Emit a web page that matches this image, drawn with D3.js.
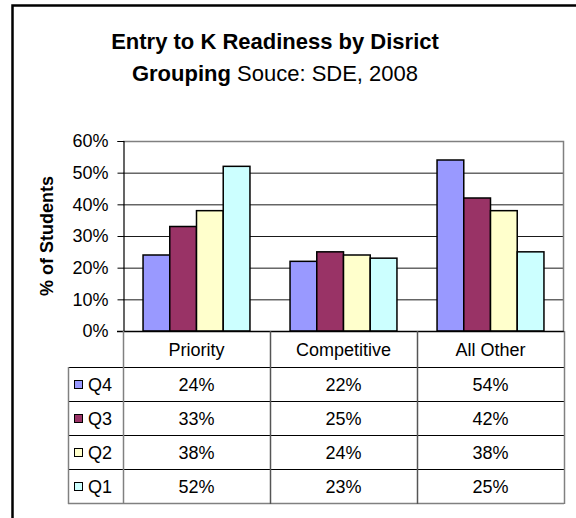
<!DOCTYPE html>
<html>
<head>
<meta charset="utf-8">
<script src="https://cdn.jsdelivr.net/npm/d3@7"></script>
<style>
  html, body { margin: 0; padding: 0; background: #fff; }
  svg { display: block; font-family: "Liberation Sans", Arial, sans-serif; }
</style>
</head>
<body>
<svg id="chart" width="576" height="518"></svg>
<script>
// District groupings along the x axis
const categories = ["Priority", "Competitive", "All Other"];
// Readiness quartiles, in the order they are drawn within each group
const seriesNames = ["Q4", "Q3", "Q2", "Q1"];
const q4 = [0.24, 0.22, 0.54];
const q3 = [0.33, 0.25, 0.42];
const q2 = [0.38, 0.24, 0.38];
const q1 = [0.52, 0.23, 0.25];
const seriesColors = ["#9999FF", "#993366", "#FFFFCC", "#CCFFFF"];
const yTicks = [0, 0.1, 0.2, 0.3, 0.4, 0.5, 0.6];

const seriesValues = [q4, q3, q2, q1];
const series = seriesNames.map((name, i) => ({ name, values: seriesValues[i], color: seriesColors[i] }));

const svg = d3.select("#chart");
const labelSize = 18;

// Outer chart frame (runs off the right and bottom edges)
svg.append("rect")
  .attr("x", 12.5).attr("y", 5.5)
  .attr("width", 620).attr("height", 620)
  .attr("fill", "none").attr("stroke", "#000").attr("stroke-width", 2.5);

// Title
const title = svg.append("g").attr("font-size", 22).attr("text-anchor", "middle");
title.append("text").attr("x", 275).attr("y", 49)
  .attr("font-weight", "bold").text("Entry to K Readiness by Disrict");
const t2 = title.append("text").attr("x", 275).attr("y", 81);
t2.append("tspan").attr("font-weight", "bold").text("Grouping");
t2.append("tspan").text(" Souce: SDE, 2008");

// Scales
const plot = { left: 123, right: 564, top: 141, bottom: 331 };
const x0 = d3.scaleBand().domain(categories).range([plot.left, plot.right]).padding(0);
const x1 = d3.scaleBand().domain(seriesNames).range([0, x0.bandwidth()])
  .paddingInner(0).paddingOuter(0.75);
const y = d3.scaleLinear().domain([0, 0.6]).range([plot.bottom, plot.top]);

// Gridlines
svg.append("g").selectAll("line").data(yTicks.filter(t => t > 0 && t < 0.6)).join("line")
  .attr("x1", plot.left).attr("x2", plot.right)
  .attr("y1", d => y(d) + 0.5).attr("y2", d => y(d) + 0.5)
  .attr("stroke", "#1a1a1a").attr("stroke-width", 1);

// Plot area border (top and right)
svg.append("path")
  .attr("d", `M${plot.left},${y(0.6) + 0.5}H${plot.right - 0.5}V${plot.bottom}`)
  .attr("fill", "none").attr("stroke", "#808080").attr("stroke-width", 1.5);

// Bars
const groups = svg.append("g").selectAll("g").data(series).join("g")
  .attr("fill", d => d.color);
groups.selectAll("rect")
  .data(d => categories.map((c, i) => ({ cat: c, name: d.name, value: d.values[i] })))
  .join("rect")
  .attr("x", d => x0(d.cat) + x1(d.name))
  .attr("y", d => y(d.value))
  .attr("width", x1.bandwidth())
  .attr("height", d => y(0) - y(d.value))
  .attr("stroke", "#000").attr("stroke-width", 1.5);

// Y axis
const yAxis = d3.axisLeft(y).tickValues(yTicks).tickFormat(d3.format(".0%"))
  .tickSize(6).tickPadding(9);
const yg = svg.append("g").attr("transform", `translate(${plot.left + 0.5},0)`).call(yAxis);
yg.select(".domain").attr("stroke", "#000").attr("stroke-width", 1.2);
yg.selectAll(".tick line").attr("stroke", "#000");
yg.selectAll(".tick text").attr("font-size", labelSize).attr("fill", "#000")
  .attr("font-family", "Liberation Sans, Arial, sans-serif");

// Y axis title
svg.append("text")
  .attr("transform", `translate(53,${(plot.top + plot.bottom) / 2}) rotate(-90)`)
  .attr("text-anchor", "middle").attr("font-weight", "bold").attr("font-size", 18)
  .text("% of Students");

// Data table below the plot
const headerTop = plot.bottom, headerBottom = 367, tableBottom = 503;
const legendLeft = 68;
const rowScale = d3.scaleBand().domain(seriesNames).range([headerBottom, tableBottom]);
const table = svg.append("g");

// Horizontal rules
table.append("line")
  .attr("x1", 117).attr("x2", plot.right).attr("y1", headerTop + 0.5).attr("y2", headerTop + 0.5)
  .attr("stroke", "#000").attr("stroke-width", 1.5);
table.selectAll("line.row").data(seriesNames).join("line").attr("class", "row")
  .attr("x1", legendLeft).attr("x2", plot.right)
  .attr("y1", d => rowScale(d) + 0.5).attr("y2", d => rowScale(d) + 0.5)
  .attr("stroke", "#000").attr("stroke-width", 1.2);
table.append("line")
  .attr("x1", legendLeft).attr("x2", plot.right).attr("y1", tableBottom + 0.5).attr("y2", tableBottom + 0.5)
  .attr("stroke", "#808080").attr("stroke-width", 1.5);

// Vertical rules
table.append("line")
  .attr("x1", legendLeft + 0.5).attr("x2", legendLeft + 0.5).attr("y1", headerBottom).attr("y2", tableBottom + 1)
  .attr("stroke", "#808080").attr("stroke-width", 1.5);
table.selectAll("line.col").data(categories.map(c => x0(c)).concat([plot.right])).join("line").attr("class", "col")
  .attr("x1", d => d + 0.5).attr("x2", d => d + 0.5).attr("y1", headerTop).attr("y2", tableBottom + 1)
  .attr("stroke", (d, i) => (i === 0 || i === 3) ? "#808080" : "#555").attr("stroke-width", 1.5);

// Category header labels
table.selectAll("text.cat").data(categories).join("text").attr("class", "cat")
  .attr("x", d => x0(d) + x0.bandwidth() / 2)
  .attr("y", (headerTop + headerBottom) / 2 + 1)
  .attr("text-anchor", "middle").attr("dominant-baseline", "central")
  .attr("font-size", labelSize).text(d => d);

// Legend keys and series labels
const rows = table.selectAll("g.rowlab").data(series).join("g").attr("class", "rowlab")
  .attr("transform", d => `translate(0,${rowScale(d.name) + rowScale.bandwidth() / 2})`);
rows.append("rect")
  .attr("x", 74.5).attr("y", -3.5).attr("width", 8).attr("height", 8)
  .attr("fill", d => d.color).attr("stroke", "#000").attr("stroke-width", 1);
rows.append("text")
  .attr("x", 88).attr("y", 1).attr("dominant-baseline", "central")
  .attr("font-size", labelSize).text(d => d.name);

// Value cells
const fmt = d3.format(".0%");
rows.selectAll("text.val")
  .data(d => categories.map((c, i) => ({ cat: c, value: d.values[i] })))
  .join("text").attr("class", "val")
  .attr("x", d => x0(d.cat) + x0.bandwidth() / 2).attr("y", 1)
  .attr("text-anchor", "middle").attr("dominant-baseline", "central")
  .attr("font-size", labelSize).text(d => fmt(d.value));
</script>
</body>
</html>
